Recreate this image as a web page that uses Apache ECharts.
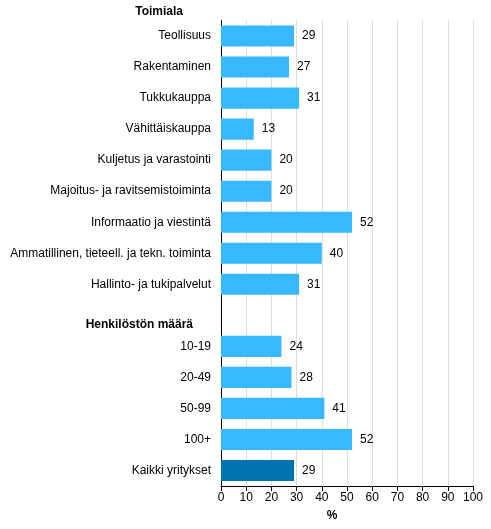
<!DOCTYPE html>
<html>
<head>
<meta charset="utf-8">
<script src="https://cdn.jsdelivr.net/npm/echarts@6/dist/echarts.min.js"></script>
<style>html,body{margin:0;padding:0;background:#fff}#c{width:491px;height:529px}</style>
</head>
<body>
<div id="c"></div>
<script>
var categories = ['Teollisuus','Rakentaminen','Tukkukauppa','Vähittäiskauppa','Kuljetus ja varastointi','Majoitus- ja ravitsemistoiminta','Informaatio ja viestintä','Ammatillinen, tieteell. ja tekn. toiminta','Hallinto- ja tukipalvelut','','10-19','20-49','50-99','100+','Kaikki yritykset'];
var values = [29,27,31,13,20,20,52,40,31,null,24,28,41,52,29];
var highlightIndex = 14;
var headers = ['Toimiala','Henkilöstön määrä'];

var chart = echarts.init(document.getElementById('c'));
var font = '"Liberation Sans", Arial, sans-serif';
chart.setOption({
  animation: false,
  textStyle: {fontFamily: font},
  grid: {left: 221, right: 18, top: 20.5, bottom: 43, containLabel: false},
  xAxis: {
    type: 'value', min: 0, max: 100, interval: 10,
    axisLine: {show: true, lineStyle: {color: '#000', width: 1}},
    axisTick: {show: true, length: 5, lineStyle: {color: '#000'}},
    axisLabel: {color: '#000', fontSize: 12, margin: 6, fontFamily: font},
    splitLine: {show: true, lineStyle: {color: '#bdbdbd', type: [1, 1]}},
    name: '%', nameLocation: 'middle', nameGap: 24,
    nameTextStyle: {color: '#000', fontSize: 12, fontWeight: 'bold', fontFamily: font, padding: [0, 30, 0, 0]}
  },
  yAxis: {
    type: 'category', data: categories, inverse: true,
    axisLine: {show: true, onZero: false, lineStyle: {color: '#000', width: 1}},
    axisTick: {show: false},
    axisLabel: {color: '#000', fontSize: 12, margin: 10, fontFamily: font},
    splitLine: {show: false}
  },
  series: [{
    type: 'bar',
    data: values.map(function (v, i) {
      return {value: v, itemStyle: {color: i === highlightIndex ? '#0073b0' : '#38b9ff'}};
    }),
    barCategoryGap: '32%',
    label: {show: true, position: 'right', distance: 8, color: '#000', fontSize: 12, fontFamily: font}
  }],
  graphic: [
    {type: 'text', right: 491 - 183, top: 6, style: {text: headers[0], font: 'bold 12px ' + font, fill: '#000'}},
    {type: 'text', right: 491 - 193, top: 319, style: {text: headers[1], font: 'bold 12px ' + font, fill: '#000'}}
  ]
});
</script>
</body>
</html>
